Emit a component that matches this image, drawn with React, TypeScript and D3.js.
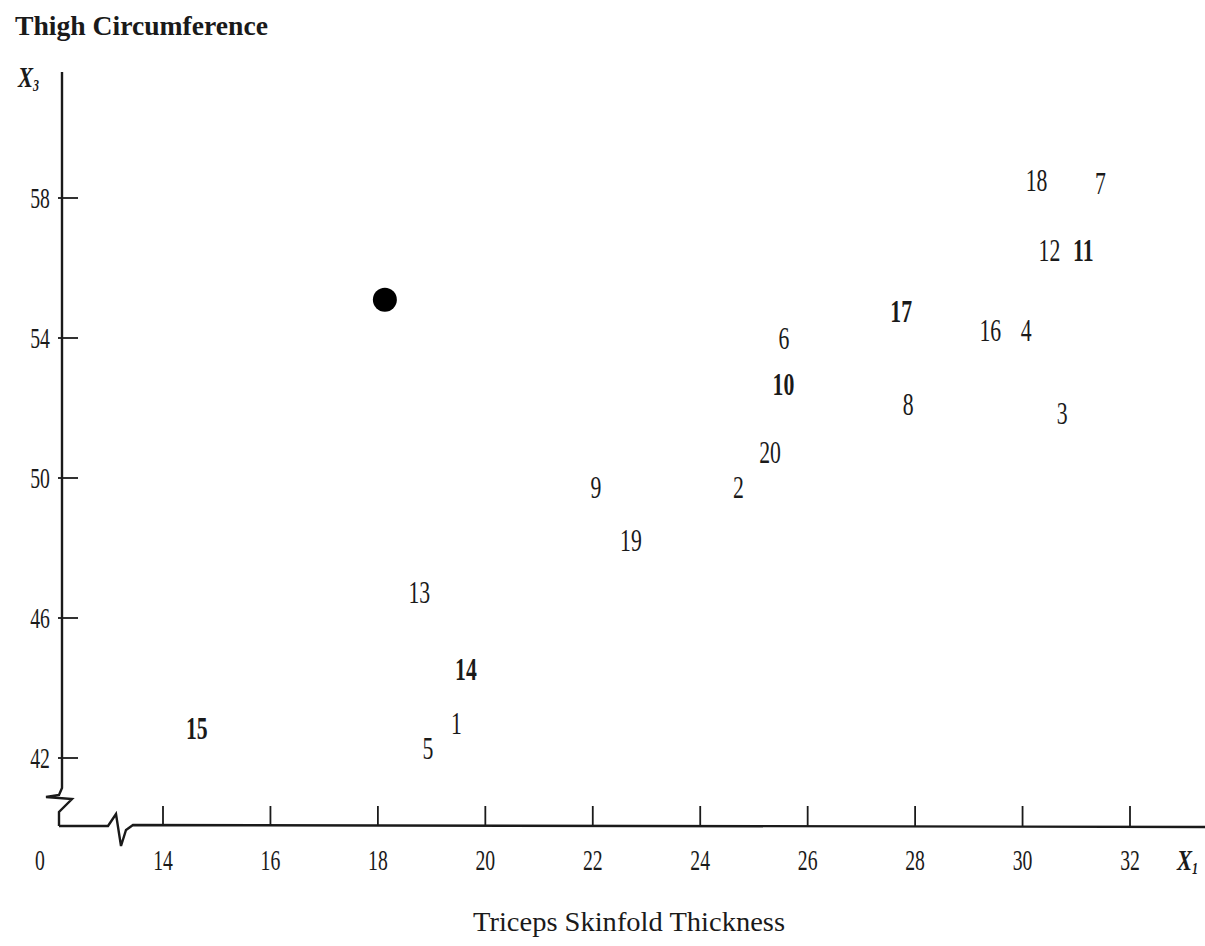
import React from "react";
import * as d3 from "d3";

const labels = ["1","2","3","4","5","6","7","8","9","10","11","12","13","14","15","16","17","18","19","20"];
const tricepsX1 = [19.46, 24.71, 30.74, 30.07, 18.93, 25.56, 31.45, 27.87, 22.06, 25.55, 31.13, 30.5, 18.77, 19.64, 14.63, 29.4, 27.74, 30.26, 22.71, 25.3];
const thighX3 = [43.0, 49.74, 51.86, 54.23, 42.29, 54.0, 58.43, 52.11, 49.74, 52.69, 56.51, 56.51, 46.74, 44.54, 42.86, 54.23, 54.77, 58.51, 48.23, 50.74];
const boldLabels = ["10", "14", "15", "17", "11"];
const newPoint = [18.13, 55.09];
const xTicks = [14, 16, 18, 20, 22, 24, 26, 28, 30, 32];
const yTicks = [42, 46, 50, 54, 58];

const font = "'Liberation Serif', 'DejaVu Serif', serif";
const ink = "#1a1a1a";

function CText(props: { x: number; y: number; size: number; sx?: number; bold?: boolean; anchor?: string; children: React.ReactNode; italic?: boolean }) {
  const { x, y, size, sx = 0.68, bold, anchor = "middle", children, italic } = props;
  return (
    <text transform={`translate(${x},${y}) scale(${sx},1)`} fontSize={size} textAnchor={anchor}
      fontWeight={bold ? "bold" : "normal"} fontStyle={italic ? "italic" : "normal"} fill={ink} fontFamily={font}>
      {children}
    </text>
  );
}

export default function App() {
  const W = 1205, H = 946;
  const x = d3.scaleLinear().domain([14, 32]).range([163, 1130]);
  const y = d3.scaleLinear().domain([42, 58]).range([758, 198]);
  const axisY = 826;
  const axisX = 62;
  return (
    <svg width={W} height={H} style={{ position: "absolute", left: 0, top: 0, background: "#fff" }}>
      <rect x={0} y={0} width={W} height={H} fill="#fff" />
      <g fontFamily={font} fill={ink}>
        <text x={15} y={35} fontSize={27} fontWeight="bold" textLength={253} lengthAdjust="spacingAndGlyphs">Thigh Circumference</text>
        <CText x={18} y={87} size={30} sx={0.75} anchor="start" italic bold>X<tspan fontSize={16} dy={4}>3</tspan></CText>
        {/* y axis with break */}
        <path d={`M${axisX},72 L${axisX},788 L${axisX - 3},795 L${axisX - 16},797 L${axisX + 10},799 L${axisX - 3},812 L${axisX - 3},${axisY}`} fill="none" stroke={ink} strokeWidth={2.4} />
        {/* x axis with break */}
        <path d={`M${axisX - 3},${axisY} L108,${axisY} L116,814 L121,846 L126,830 L133,${axisY - 1} L${W},${axisY + 1}`} fill="none" stroke={ink} strokeWidth={2.4} />
        {yTicks.map((t) => (
          <g key={"y" + t}>
            <line x1={axisX - 4} x2={axisX + 16} y1={y(t)} y2={y(t)} stroke={ink} strokeWidth={1.8} />
            <CText x={40} y={y(t) + 10} size={29}>{t}</CText>
          </g>
        ))}
        {xTicks.map((t) => (
          <g key={"x" + t}>
            <line x1={x(t)} x2={x(t)} y1={axisY} y2={axisY - 20} stroke={ink} strokeWidth={1.8} />
            <CText x={x(t)} y={870} size={29}>{t}</CText>
          </g>
        ))}
        <CText x={40} y={870} size={29}>0</CText>
        <CText x={1177} y={870} size={30} sx={0.75} anchor="start" italic bold>X<tspan fontSize={16} dy={4}>1</tspan></CText>
        <text x={473} y={931} fontSize={28} textLength={312} lengthAdjust="spacingAndGlyphs">Triceps Skinfold Thickness</text>
        {labels.map((l, i) => (
          <CText key={l} x={x(tricepsX1[i])} y={y(thighX3[i]) + 11} size={32} bold={boldLabels.includes(l)}>{l}</CText>
        ))}
        <circle cx={x(newPoint[0])} cy={y(newPoint[1])} r={12} fill="#000" />
      </g>
    </svg>
  );
}
